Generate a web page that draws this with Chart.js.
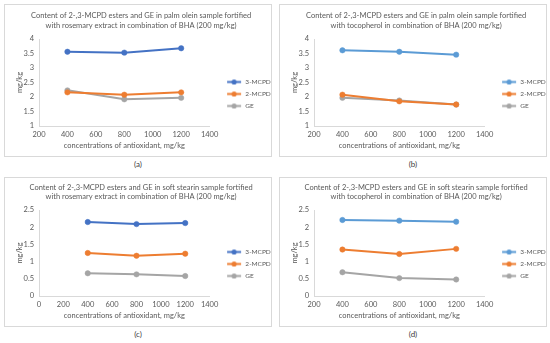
<!DOCTYPE html>
<html>
<head>
<meta charset="utf-8">
<script src="https://cdn.jsdelivr.net/npm/chart.js@4.4.1/dist/chart.umd.min.js"></script>
<style>
  html, body { margin: 0; padding: 0; background: #fff; }
  body { width: 550px; height: 343px; position: relative; overflow: hidden; font-family: Lato, "Open Sans", sans-serif; }
  .box { position: absolute; border: 1px solid #d9d9d9; box-sizing: border-box; }
  canvas { position: absolute; }
  .lab { position: absolute; font-size: 8px; color: #404040; transform: translate(-50%, -50%); }
</style>
</head>
<body>
<div class="box" style="left:4px;top:4px;width:268px;height:153px"></div>
<div class="box" style="left:279px;top:4px;width:268px;height:153px"></div>
<div class="box" style="left:4px;top:177px;width:268px;height:150px"></div>
<div class="box" style="left:279px;top:177px;width:268px;height:150px"></div>
<canvas id="ca" width="268" height="153" style="left:4px;top:4px"></canvas>
<canvas id="cb" width="268" height="153" style="left:279px;top:4px"></canvas>
<canvas id="cc" width="268" height="150" style="left:4px;top:177px"></canvas>
<canvas id="cd" width="268" height="150" style="left:279px;top:177px"></canvas>
<div class="lab" style="left:138px;top:164px">(a)</div>
<div class="lab" style="left:413px;top:164px">(b)</div>
<div class="lab" style="left:138px;top:334px">(c)</div>
<div class="lab" style="left:413px;top:334px">(d)</div>
<script>
// ---- data ----
const concentrations = [400, 800, 1200];
const seriesNames = ['3-MCPD', '2-MCPD', 'GE'];

const oleinRosemary3MCPD = [3.56, 3.53, 3.68];
const oleinRosemary2MCPD = [2.16, 2.08, 2.16];
const oleinRosemaryGE    = [2.23, 1.92, 1.97];

const oleinTocopherol3MCPD = [3.61, 3.56, 3.46];
const oleinTocopherol2MCPD = [2.08, 1.85, 1.74];
const oleinTocopherolGE    = [1.97, 1.88, 1.74];

const stearinRosemary3MCPD = [2.15, 2.09, 2.12];
const stearinRosemary2MCPD = [1.25, 1.17, 1.23];
const stearinRosemaryGE    = [0.66, 0.63, 0.58];

const stearinTocopherol3MCPD = [2.21, 2.19, 2.16];
const stearinTocopherol2MCPD = [1.35, 1.22, 1.37];
const stearinTocopherolGE    = [0.69, 0.52, 0.48];

const titleA = ['Content of 2-,3-MCPD esters and GE in palm olein sample fortified', 'with rosemary extract in combination of BHA (200 mg/kg)'];
const titleB = ['Content of 2-,3-MCPD esters and GE in palm olein sample fortified', 'with tocopherol in combination of BHA (200 mg/kg)'];
const titleC = ['Content of 2-,3-MCPD esters and GE in soft stearin sample fortified', 'with rosemary extract in combination of BHA (200 mg/kg)'];
const titleD = ['Content of 2-,3-MCPD esters and GE in soft stearin sample fortified', 'with tocopherol in combination of BHA (200 mg/kg)'];

const xAxisTitle = 'concentrations of antioxidant, mg/kg';
const yAxisTitle = 'mg/kg';

// ---- styling ----
const FONT = 'Lato';
const TXT = '#595959';
const FS = 7.5;
const LFS = 6.5;
const darkBlue = '#4472C4', lightBlue = '#5B9BD5', orange = '#ED7D31', gray = '#A5A5A5';

Chart.defaults.font.family = FONT;
Chart.defaults.font.size = FS;
Chart.defaults.color = TXT;

function legendIcon(color) {
  const c = document.createElement('canvas');
  c.width = 27; c.height = 7;
  const g = c.getContext('2d');
  g.strokeStyle = color; g.lineWidth = 2;
  g.beginPath(); g.moveTo(12, 3.5); g.lineTo(26, 3.5); g.stroke();
  g.fillStyle = color;
  g.beginPath(); g.arc(19, 3.5, 2.6, 0, Math.PI * 2); g.fill();
  return c;
}

function measure(text) {
  const c = document.createElement('canvas').getContext('2d');
  c.font = LFS + 'px ' + FONT;
  return c.measureText(text).width;
}

function makeChart(id, titles, series, colors, xmin, ymin, ymax, topRow) {
  const canvas = document.getElementById(id);
  const W = canvas.width, H = canvas.height;
  const chartTop = topRow ? 35 : 33;
  const chartLeft = 35, chartRight = 203;
  const chartBottom = topRow ? 122 : 119;
  const lh = 9.5;
  const titlePadTop = topRow ? 7.25 : 5.5;
  const titlePadBottom = chartTop - titlePadTop - 2 * lh;
  const boxW = 27, lpad = 5.5;
  const maxText = Math.max(...seriesNames.map(measure));
  const legendW = lpad + boxW + LFS / 2 + maxText + 10;
  const padRight = W - chartRight - legendW;
  const icons = colors.map(legendIcon);
  const legendTitlePad = (topRow ? 78 : 75) - lpad - LFS / 2 - LFS * 1.2;

  return new Chart(canvas, {
    type: 'line',
    data: {
      datasets: series.map((vals, i) => ({
        label: seriesNames[i],
        data: concentrations.map((x, j) => ({ x: x, y: vals[j] })),
        borderColor: colors[i],
        backgroundColor: colors[i],
        pointBackgroundColor: colors[i],
        pointBorderColor: colors[i],
        borderWidth: 2,
        pointRadius: 2.7,
        pointBorderWidth: 0.5,
        tension: 0
      }))
    },
    options: {
      responsive: false,
      animation: false,
      devicePixelRatio: 1,
      layout: { padding: { left: 0, top: 0, bottom: 0, right: padRight } },
      plugins: {
        title: {
          display: true,
          text: titles,
          color: TXT,
          font: { family: FONT, size: FS, weight: 'normal', lineHeight: lh / FS },
          padding: { top: titlePadTop, bottom: titlePadBottom }
        },
        legend: {
          position: 'right',
          align: 'start',
          title: { display: true, text: ' ', padding: { top: legendTitlePad, bottom: 0 }, font: { size: LFS, lineHeight: 1.2 } },
          labels: {
            usePointStyle: true,
            pointStyleWidth: boxW,
            boxHeight: LFS,
            padding: lpad,
            color: TXT,
            font: { family: FONT, size: LFS },
            generateLabels: (chart) => Chart.defaults.plugins.legend.labels.generateLabels(chart).map((l, i) => Object.assign(l, { pointStyle: icons[i] }))
          }
        },
        tooltip: { enabled: false }
      },
      scales: {
        x: {
          type: 'linear',
          min: xmin, max: 1400,
          ticks: { stepSize: 200, padding: 4, color: TXT, font: { size: FS }, maxRotation: 0, callback: (v) => String(v) },
          grid: { display: false, drawTicks: false },
          border: { display: true, color: '#d9d9d9', width: 1 },
          title: { display: true, text: xAxisTitle, color: TXT, font: { size: FS, lineHeight: 1.2 }, padding: { top: 0, bottom: 11 - FS * 0.6 } },
          afterFit: (s) => { s.height = H - chartBottom; }
        },
        y: {
          type: 'linear',
          min: ymin, max: ymax,
          ticks: { stepSize: 0.5, padding: 5, color: TXT, font: { size: FS }, callback: (v) => String(v) },
          grid: { display: false, drawTicks: false },
          border: { display: true, color: '#d9d9d9', width: 1 },
          title: { display: true, text: yAxisTitle, color: TXT, font: { size: FS, lineHeight: 1.2 }, padding: { top: 16 - FS * 0.6, bottom: 0 } },
          afterFit: (s) => { s.width = chartLeft; }
        }
      }
    }
  });
}

makeChart('ca', titleA, [oleinRosemary3MCPD, oleinRosemary2MCPD, oleinRosemaryGE], [darkBlue, orange, gray], 200, 1, 4, true);
makeChart('cb', titleB, [oleinTocopherol3MCPD, oleinTocopherol2MCPD, oleinTocopherolGE], [lightBlue, orange, gray], 200, 1, 4, true);
makeChart('cc', titleC, [stearinRosemary3MCPD, stearinRosemary2MCPD, stearinRosemaryGE], [darkBlue, orange, gray], 0, 0, 2.5, false);
makeChart('cd', titleD, [stearinTocopherol3MCPD, stearinTocopherol2MCPD, stearinTocopherolGE], [lightBlue, orange, gray], 200, 0, 2.5, false);
</script>
</body>
</html>
